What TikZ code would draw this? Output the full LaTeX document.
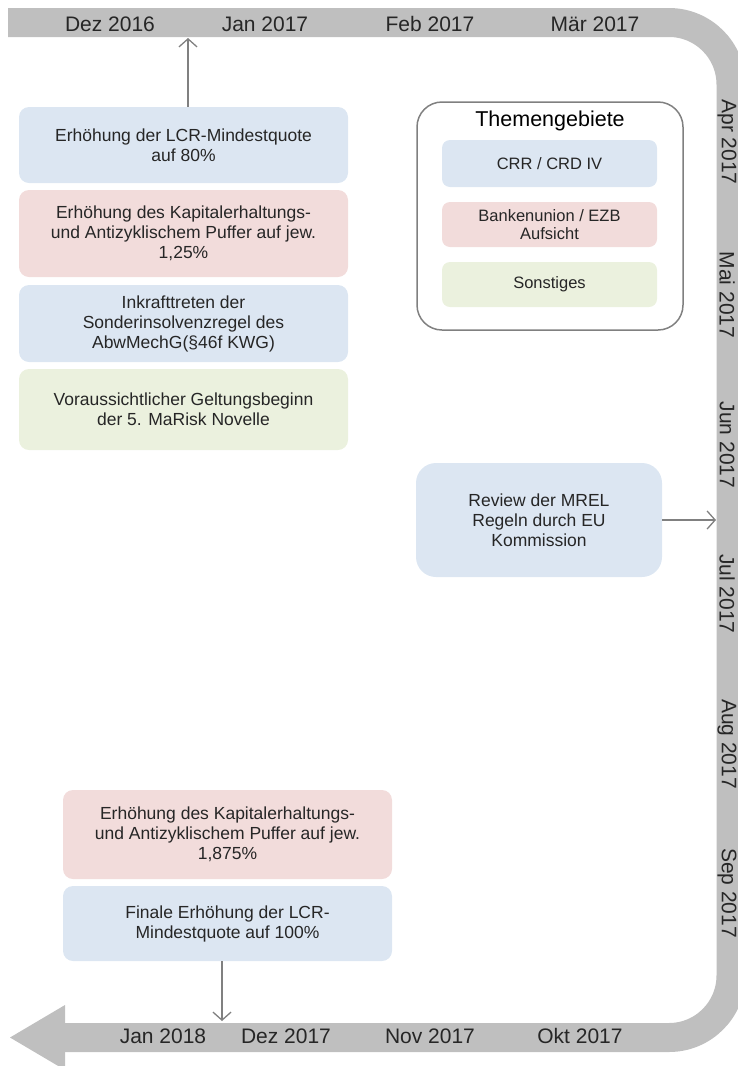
\documentclass[tikz,border=0pt]{standalone}
\usepackage{fontspec}
\setmainfont{Liberation Sans}
\usetikzlibrary{arrows.meta}
\definecolor{band}{HTML}{BFBFBF}
\definecolor{crr}{HTML}{DCE6F2}
\definecolor{ezb}{HTML}{F2DCDB}
\definecolor{misc}{HTML}{EBF1DE}
\definecolor{ink}{HTML}{262626}
\definecolor{conn}{HTML}{808080}

\begin{document}
\begin{tikzpicture}[x=1pt, y=-1pt,
  box/.style={rounded corners=10pt, minimum width=329pt, align=center, font=\fontsize{17.5}{20}\selectfont, text=ink, inner sep=0pt},
  legbox/.style={rounded corners=8pt, minimum width=215pt, align=center, font=\fontsize{16.5}{18.5}\selectfont, text=ink, inner sep=0pt},
  month/.style={font=\fontsize{21}{24}\selectfont, text=ink, inner sep=0pt},
  arrow/.style={-{Straight Barb[length=8pt,width=18pt]}, conn, line width=1.3pt},
]
\useasboundingbox (0,0) rectangle (738,1066);

% Timeline band
\begin{scope}
\clip (0,0) rectangle (738,1066);
\draw[band, line width=29pt, rounded corners=62pt] (8,22.5) -- (731,22.5) -- (731,1037.5) -- (63,1037.5);
\fill[band] (65,1005) -- (10,1037.5) -- (65,1070) -- cycle;
\end{scope}

% Months top
\node[month] (dez16) at (110,24) {Dez 2016};
\node[month] (jan17) at (265,24) {Jan 2017};
\node[month] (feb17) at (430,24) {Feb 2017};
\node[month] (mar17) at (595,24) {Mär 2017};

% Months right
\node[month, rotate=-90] (apr17) at (727,142) {Apr 2017};
\node[month, rotate=-90] (mai17) at (727,295) {Mai 2017};
\node[month, rotate=-90] (jun17) at (727,445) {Jun 2017};
\node[month, rotate=-90] (jul17) at (727,594) {Jul 2017};
\node[month, rotate=-90] (aug17) at (727,744) {Aug 2017};
\node[month, rotate=-90] (sep17) at (727,893) {Sep 2017};

% Months bottom
\node[month] (okt17) at (580,1036) {Okt 2017};
\node[month] (nov17) at (430,1036) {Nov 2017};
\node[month] (dez17) at (286,1036) {Dez 2017};
\node[month] (jan18) at (163,1036) {Jan 2018};

% Events Jan 2017
\node[box, fill=crr, minimum height=76pt] (lcr80) at (183.5,145) {Erhöhung der LCR-Mindestquote\\auf 80\%};
\node[box, fill=ezb, minimum height=87pt] (puffer1) at (183.5,233.5) {Erhöhung des Kapitalerhaltungs-\\und Antizyklischem Puffer auf jew.\\1,25\%};
\node[box, fill=crr, minimum height=77pt] (abwmechg) at (183.5,323.5) {Inkrafttreten der\\Sonderinsolvenzregel des\\AbwMechG(§46f KWG)};
\node[box, fill=misc, minimum height=81pt] (marisk) at (183.5,409.5) {Voraussichtlicher Geltungsbeginn\\der 5. MaRisk Novelle};

% Legend
\node[draw=conn, line width=1.5pt, rounded corners=25pt, minimum width=266pt, minimum height=228pt] (legend) at (550,216) {};
\node[font=\fontsize{21.5}{24}\selectfont, text=black] (legtitle) at (550,121) {Themengebiete};
\node[legbox, fill=crr, minimum height=47pt] (legcrr) at (549.5,163.5) {CRR / CRD IV};
\node[legbox, fill=ezb, minimum height=45pt] (legezb) at (549.5,224.5) {Bankenunion / EZB\\Aufsicht};
\node[legbox, fill=misc, minimum height=45pt] (legmisc) at (549.5,284.5) {Sonstiges};

% Event Jul 2017
\node[box, fill=crr, rounded corners=20pt, minimum width=246pt, minimum height=114pt] (mrel) at (539,520) {Review der MREL\\Regeln durch EU\\Kommission};

% Events Jan 2018
\node[box, fill=ezb, minimum height=89pt] (puffer2) at (227.5,834.5) {Erhöhung des Kapitalerhaltungs-\\und Antizyklischem Puffer auf jew.\\1,875\%};
\node[box, fill=crr, minimum height=75pt] (lcr100) at (227.5,923.5) {Finale Erhöhung der LCR-\\Mindestquote auf 100\%};

% Arrows to the band
\coordinate (mjan17) at (188,38);
\coordinate (mjul17) at (716,520);
\coordinate (mjan18) at (222,1021);
\draw[arrow] (mjan17 |- lcr80.north) -- (mjan17);
\draw[arrow] (mrel.east) -- (mjul17);
\draw[arrow] (mjan18 |- lcr100.south) -- (mjan18);

\end{tikzpicture}
\end{document}
